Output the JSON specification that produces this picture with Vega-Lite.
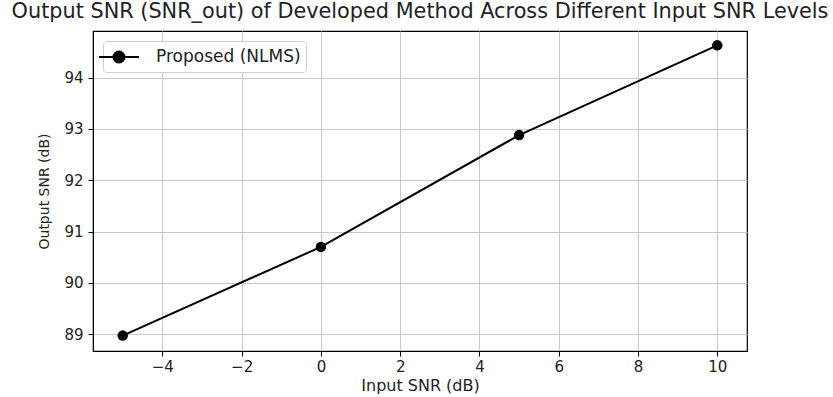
{
  "$schema": "https://vega.github.io/schema/vega-lite/v6.json",
  "autosize": "none",
  "padding": {"left": 93, "top": 31, "right": 86, "bottom": 46},
  "width": 654,
  "height": 320,
  "background": "white",
  "config": {
    "font": "DejaVu Sans",
    "view": {"stroke": "black", "strokeWidth": 1.2},
    "axis": {
      "domainColor": "black",
      "tickColor": "black",
      "gridColor": "#c8c8c8",
      "gridWidth": 1,
      "labelFont": "DejaVu Sans",
      "titleFont": "DejaVu Sans",
      "labelFontSize": 15,
      "titleFontSize": 16,
      "titleFontWeight": "normal",
      "labelColor": "#222",
      "titleColor": "#222",
      "tickSize": 5
    }
  },
  "title": {
    "text": "Output SNR (SNR_out) of Developed Method Across Different Input SNR Levels",
    "fontSize": 20.8,
    "fontWeight": "normal",
    "font": "DejaVu Sans",
    "color": "#222",
    "anchor": "middle",
    "offset": 8
  },
  "data": {
    "values": [
      {"input": -5, "output": 88.97, "series": "Proposed (NLMS)"},
      {"input": 0, "output": 90.70, "series": "Proposed (NLMS)"},
      {"input": 5, "output": 92.88, "series": "Proposed (NLMS)"},
      {"input": 10, "output": 94.63, "series": "Proposed (NLMS)"}
    ]
  },
  "encoding": {
    "x": {
      "field": "input",
      "type": "quantitative",
      "scale": {"domain": [-5.75, 10.75], "nice": false, "zero": false},
      "axis": {"title": "Input SNR (dB)", "values": [-4, -2, 0, 2, 4, 6, 8, 10], "labelPadding": 3, "titlePadding": 3}
    },
    "y": {
      "field": "output",
      "type": "quantitative",
      "scale": {"domain": [88.67, 94.91], "nice": false, "zero": false},
      "axis": {"title": "Output SNR (dB)", "values": [89, 90, 91, 92, 93, 94], "titleFontSize": 14, "labelPadding": 5, "titlePadding": 12}
    },
    "color": {
      "field": "series",
      "type": "nominal",
      "scale": {"range": ["black"]},
      "legend": {
        "title": null,
        "orient": "top-left",
        "offset": 10,
        "fillColor": "white",
        "strokeColor": "#d0d0d0",
        "cornerRadius": 3,
        "padding": 5,
        "labelFontSize": 17,
        "labelFont": "DejaVu Sans",
        "labelColor": "#222",
        "symbolType": "M-2,0L2,0M0.55,0A0.55,0.55 0 1,1 -0.55,0A0.55,0.55 0 1,1 0.55,0Z",
        "symbolSize": 400,
        "symbolStrokeWidth": 2,
        "symbolFillColor": "black",
        "symbolStrokeColor": "black",
        "labelOffset": 26
      }
    }
  },
  "layer": [
    {"mark": {"type": "line", "strokeWidth": 2, "color": "black"}},
    {"mark": {"type": "point", "filled": true, "size": 110, "opacity": 1, "color": "black"}}
  ]
}
